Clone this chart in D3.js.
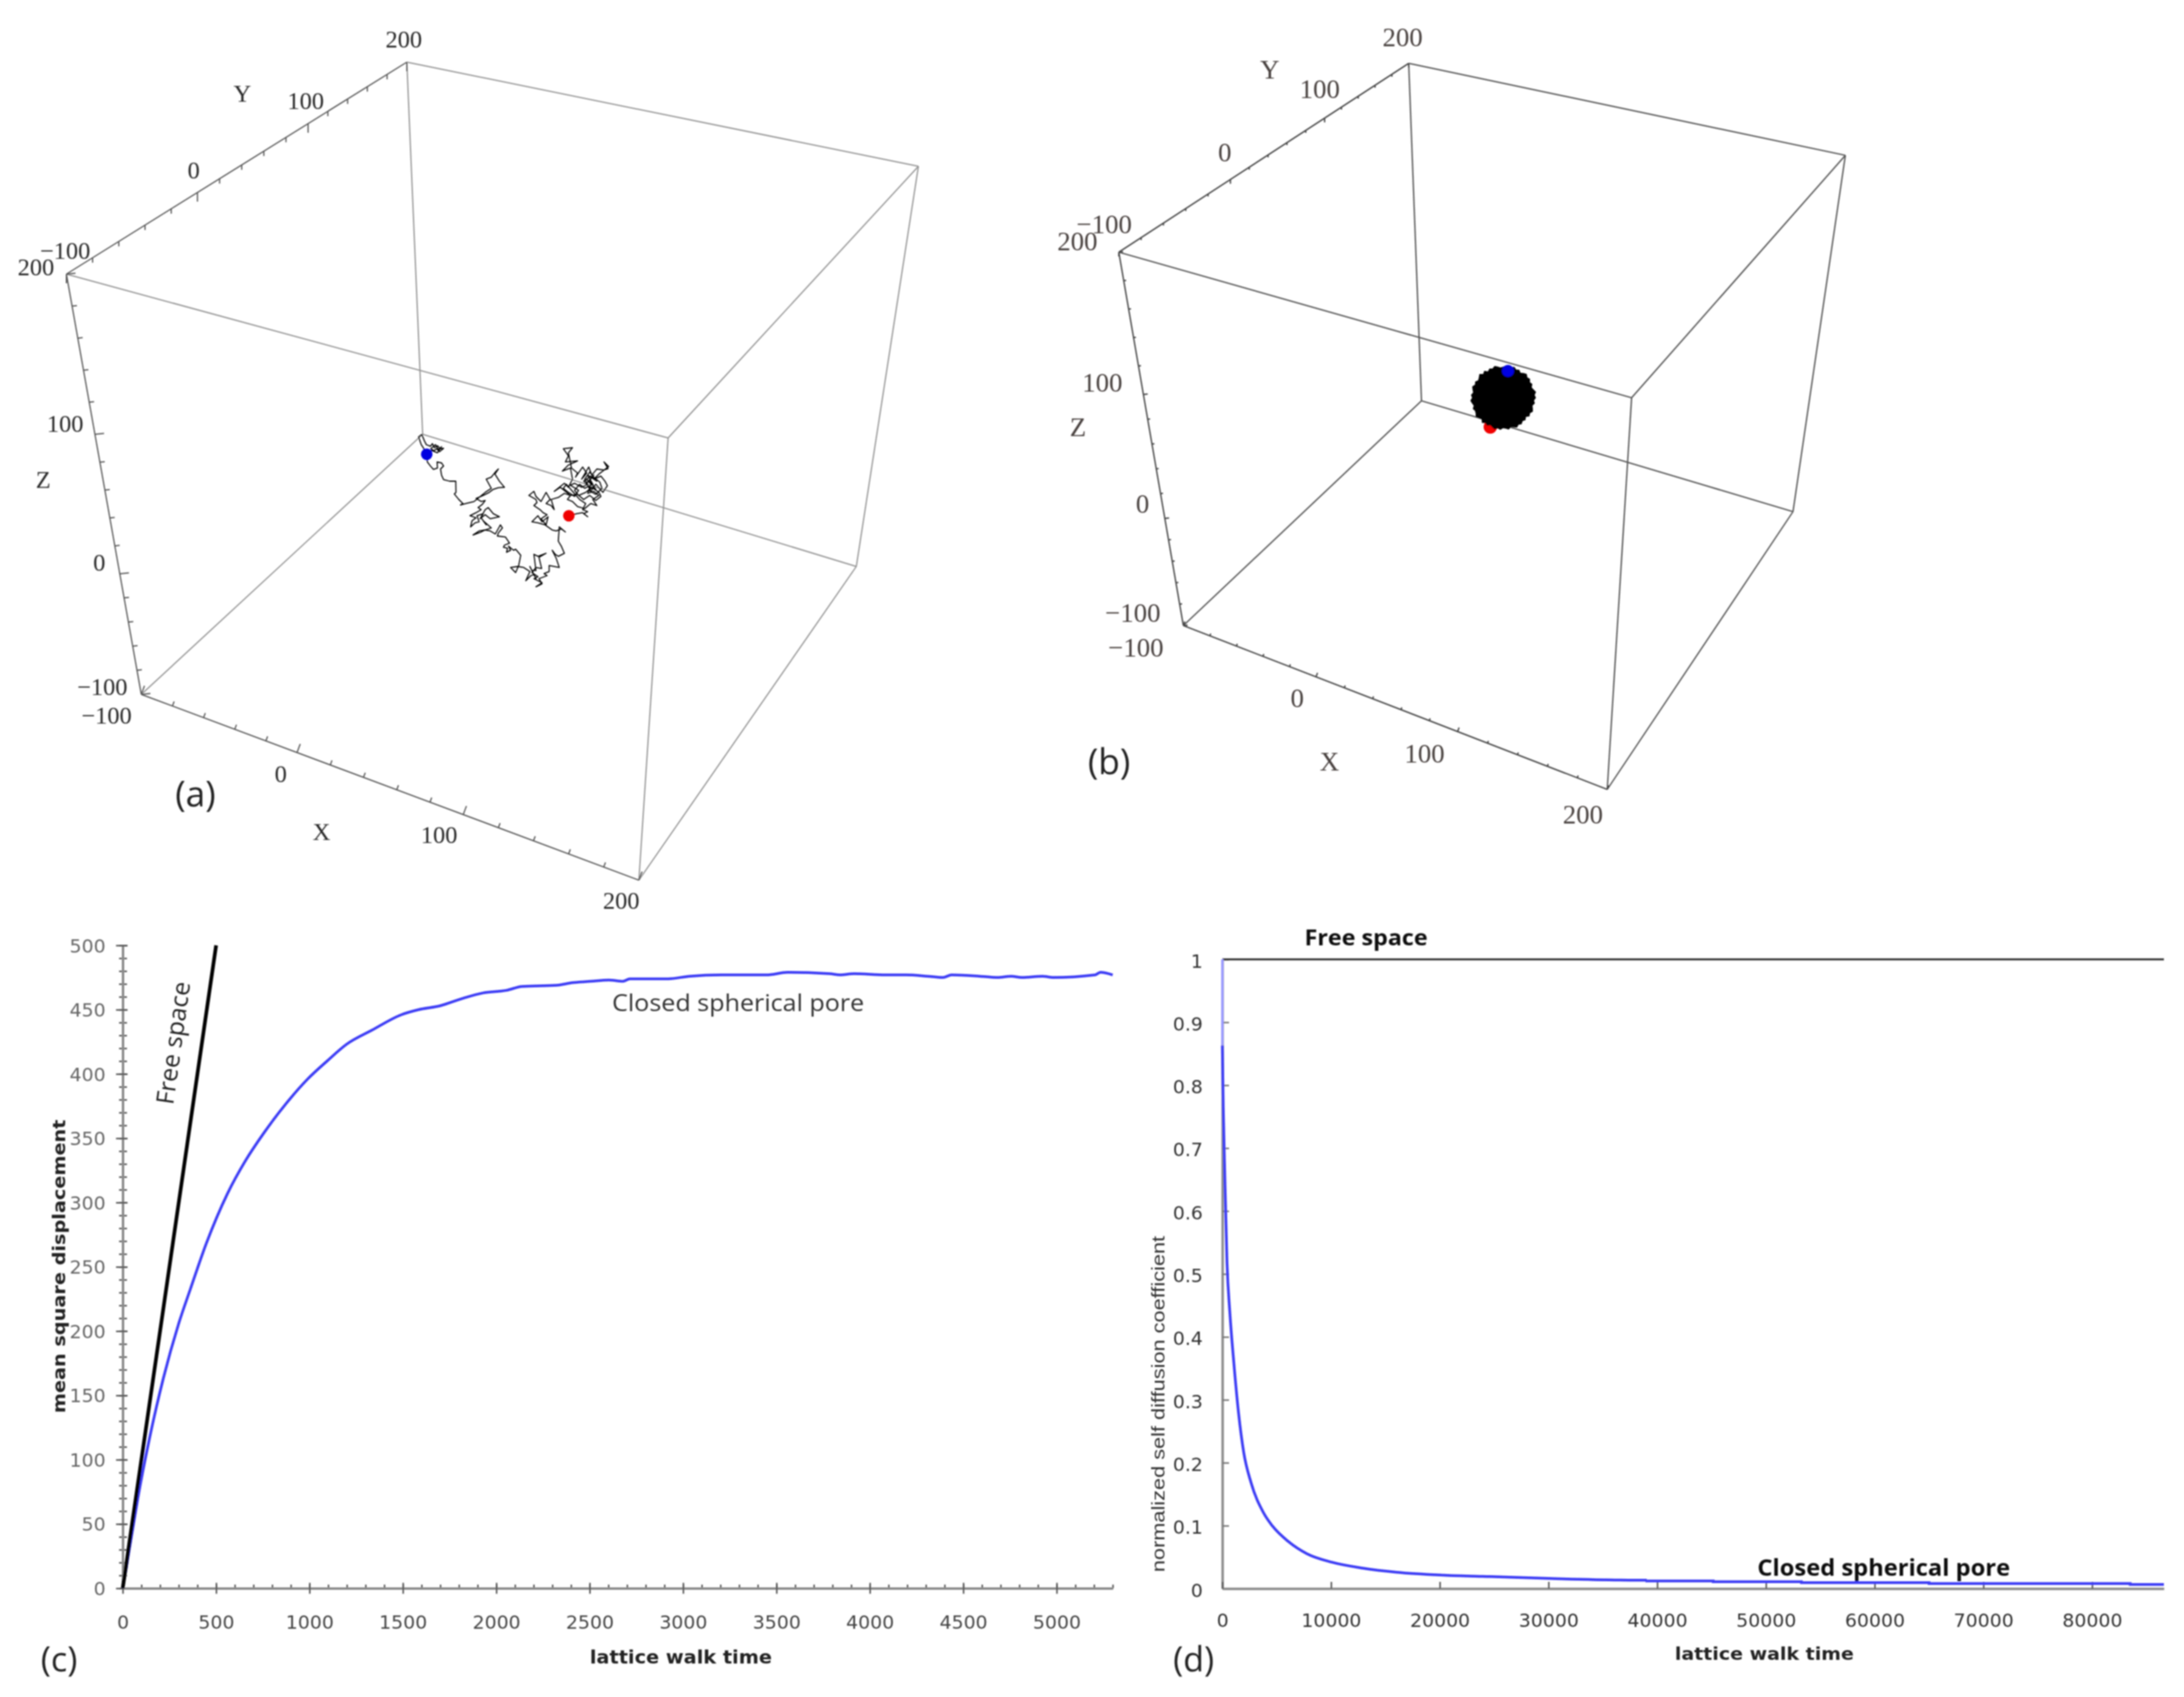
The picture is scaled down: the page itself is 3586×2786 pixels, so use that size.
<!DOCTYPE html>
<html>
<head>
<meta charset="utf-8">
<title>Random walk in a closed spherical pore</title>
<script src="https://cdn.jsdelivr.net/npm/d3@7"></script>
<style>
  html, body { margin: 0; background: #fff; }
  svg { display: block; }
  text { dominant-baseline: central; }
</style>
</head>
<body>
<svg id="fig" width="3586" height="2786"></svg>
<script>
// --- data ---

// 3D box axes: value -> fraction along the edge (perspective makes it uneven)
const boxTicks = [-100, 0, 100, 200];
const xEdgeFrac = [0, 0.313, 0.647, 1];
const yEdgeFrac = [0, 0.385, 0.71, 1];
const zEdgeFrac = [0, 0.287, 0.619, 1];
const boxMinor = d3.range(-100, 201, 20);

const walkPoints = [
  [152,197],[135,165],[125,150],[112,112],[128,100],[140,130],[150,150],[170,158],[180,145],[190,165],[205,155],[218,170],[235,168],[215,185],[200,170],[188,180],[172,170],[195,150],[210,175],[225,160],[205,190],[175,178],[152,197],
  [155,235],[170,255],[185,272],[205,265],[203,235],[225,240],[235,255],[220,270],[225,300],[235,322],[265,330],[295,330],[296,385],[288,393],[310,420],[330,440],[318,447],[345,440],[385,430],[410,410],[440,385],[470,365],[445,320],[470,310],[490,285],[505,270],[488,295],[510,330],[535,360],[505,362],[480,370],[460,385],[430,400],[395,415],[420,430],[440,425],[425,445],[405,460],[420,470],[395,485],[365,500],[395,510],[375,525],[368,555],[390,535],[410,530],[400,500],[430,490],[415,515],[440,470],[455,460],[480,490],[510,505],[465,515],[440,495],[420,510],[445,545],[430,525],[470,560],[440,570],[410,575],[380,595],[420,580],[440,570],[465,575],[490,590],[515,545],[525,560],[505,585],[500,600],[540,605],[560,635],[535,645],[530,655],[550,660],[545,680],[565,670],[555,650],[580,670],[590,665],[615,695],[605,745],[590,780],[565,755],[600,750],[630,755],[660,775],[640,820],[665,795],[680,790],[660,750],[690,810],[670,770],[690,770],[680,690],[700,700],[740,685],[705,705],[718,760],[690,755],[670,780],[700,800],[680,810],[720,830],[690,850],[720,835],[705,810],[745,795],[730,785],[755,775],[755,745],[805,755],[790,710],[770,670],[785,690],[800,700],[830,685],[815,650],[800,625],[805,555],[835,580],[815,565],[790,575],[770,570],[735,545],[700,535],[670,530],[700,500],[720,530],[750,505],[740,545],[715,515],[745,495],[725,485],[710,470],[680,450],[695,435],[690,420],[655,400],[680,380],[690,405],[715,430],[740,385],[760,420],[740,440],[765,450],[780,470],[765,420],[800,410],[830,390],[860,400],[810,360],[780,380],[830,340],[850,360],[870,320],[860,265],[820,280],[850,250],[895,230],[835,235],[850,205],[825,170],[870,165],[850,190],
  [865,265],[895,290],[885,310],[920,260],[940,290],[915,320],[950,260],[965,300],[990,270],[1025,275],[1045,268],[1025,235],[1048,258],[1000,295],[975,320],[1010,305],[1030,330],[1042,352],[1020,385],[985,345],[960,380],[940,340],[975,300],[955,325],[985,370],[950,355],[925,330],[960,305],[990,330],[945,300],[970,345],[930,365],[905,345],[880,375],[900,400],[935,385],[965,360],[1000,385],[1010,405],[985,425],[955,400],[925,420],[895,395],[860,400],[845,420],[870,430],[895,455],[930,465],[960,440],[990,450],[970,420],[1000,400],[975,380],[945,390],[960,345],[940,320],[975,355],[950,375],[985,395],[1015,365],[1005,335],[975,310],[955,285],[930,320],[945,345],[915,360],[880,340],[860,350],[900,375],[880,405],[850,385],[825,365],[840,345],[870,380],[905,420],[935,440],[920,470],[945,480],[925,490],[945,505],[920,485],[890,490],[852,500],
];

// (b) outline of the dense walk, distance from its centre, every 5 degrees
const blobRadius = [51,53,50,52,54,51,53,50,53,55,52,54,51,53,50,52,55,52,
  54,51,53,50,52,54,51,53,49,52,50,53,51,54,52,50,53,51,
  50,53,51,54,52,50,53,51,54,50,52,55,52,51,53,50,52,54,
  51,53,50,52,54,51,53,50,52,55,51,54,50,53,51,54,52,50];

// (c) mean square displacement
const timeC = [0,50,81,144,217,300,363,447,561,655,760,875,990,1094,1198,1334,1491,1585,1699,1825,1929,2054,2138,
  2325,2408,2505,2603,2678,2715,2920,3036,3204,3279,3447,3559,3784,3840,3915,4083,4195,4307,4391,4438,4588,4682,4757,4813,4925,4981,5206,5234,5300];
const msdPore = [0,43,70,117,163,206,233,268,307,332,355,377,396,410,423,434,446,450,453,459,463,465,468,
  469,471,472,473,472,474,474,476,477,477,477,479,478,477,478,477,477,476,475,477,476,475,476,475,476,475,477,479,477];
const timeFree = [0, 500];
const msdFree = [0, 500];

// (d) normalized self diffusion coefficient
const timeD = [0,86,200,430,690,1057,1486,1971,2629,3771,4629,6057,7771,10057,12914,16057,20343,24629,30343,36571,39040];
const diffPore = [0.863,0.764,0.676,0.518,0.439,0.359,0.28,0.216,0.169,0.121,0.099,0.075,0.0555,0.042,0.0325,0.026,0.0214,0.019,0.0159,0.0135,0.0133];
const timeSteps = [39040,39040,45150,45150,53260,53260,65000,65000,83500,83500,86600];
const diffSteps = [0.0133,0.0122,0.0122,0.0108,0.0108,0.0094,0.0094,0.008,0.008,0.0066,0.0066];
const diffStart = [1, 0.863];
const freeLevel = [1, 1];

const ticksC_x = d3.range(0, 5001, 500);
const ticksC_y = d3.range(0, 501, 50);
const ticksD_x = d3.range(0, 80001, 10000);
const ticksD_y = d3.range(0, 1.01, 0.1);

// --- page ---
const svg = d3.select('#fig');
const defs = svg.append('defs');
defs.append('filter')
  .attr('id', 'soft')
  .attr('filterUnits', 'userSpaceOnUse')
  .attr('x', 0).attr('y', 0).attr('width', 3586).attr('height', 2786)
  .append('feGaussianBlur').attr('stdDeviation', 1.1);

const root = svg.append('g').attr('filter', 'url(#soft)');
svg.insert('rect', ':first-child').attr('width', 3586).attr('height', 2786).attr('fill', '#fff');

function label(g, txt, x, y, o = {}) {
  const t = g.append('text')
    .attr('x', x).attr('y', y)
    .attr('text-anchor', o.anchor || 'middle')
    .attr('font-family', o.font || 'Liberation Serif')
    .attr('font-size', o.size || 40)
    .attr('font-weight', o.weight || 'normal')
    .attr('fill', o.color || '#222')
    .text(txt);
  if (o.len) t.attr('textLength', o.len).attr('lengthAdjust', 'spacingAndGlyphs');
  if (o.rotate) t.attr('transform', `rotate(${o.rotate} ${x} ${y})`);
  return t;
}

// one 3D box panel
function drawBox(c, style) {
  const g = root.append('g');
  const edges = [['B','E'],['E','F'],['A','F'],['C','H'],['H','G'],['C','D'],['G','D'],['A','H'],['E','D'],['F','G'],['B','A'],['B','C']];
  const axisEdges = new Set(['C-D', 'B-A', 'B-C']);
  edges.forEach(([p, q]) => {
    g.append('line')
      .attr('x1', c[p][0]).attr('y1', c[p][1])
      .attr('x2', c[q][0]).attr('y2', c[q][1])
      .attr('stroke', axisEdges.has(p + '-' + q) ? style.axis : style.edge)
      .attr('stroke-width', style.width);
  });
  const axes = [
    { from: 'C', to: 'D', frac: xEdgeFrac, dir: [0.35, -0.94] },
    { from: 'B', to: 'A', frac: yEdgeFrac, dir: [0, 1] },
    { from: 'C', to: 'B', frac: zEdgeFrac, dir: [1, -0.1] },
  ];
  axes.forEach(a => {
    const pos = d3.scaleLinear().domain(boxTicks).range(a.frac);
    const along = d3.interpolate(c[a.from], c[a.to]);
    boxMinor.forEach(v => {
      const p = along(pos(v));
      const len = v % 100 === 0 ? style.major : style.minor;
      g.append('line')
        .attr('x1', p[0]).attr('y1', p[1])
        .attr('x2', p[0] + a.dir[0] * len).attr('y2', p[1] + a.dir[1] * len)
        .attr('stroke', style.axis).attr('stroke-width', style.width);
    });
  });
  return g;
}

// --- (a) ---
const gA = drawBox({
  A: [668, 102], B: [109, 450], C: [232, 1140], D: [1049, 1445],
  E: [1097, 719], F: [1508, 273], G: [1406, 930], H: [694, 713],
}, { edge: '#939393', axis: '#555', width: 2, major: 15, minor: 8 });

[['Y',398,153],['100',502,165],['0',318,279],['\u2212100',107,411],['200',663,64],['200',59,438],
 ['Z',71,787],['100',107,695],['0',163,923],['\u2212100',168,1127],['\u2212100',175,1174],
 ['0',461,1270],['X',528,1365],['100',721,1370],['200',1020,1478]]
  .forEach(d => label(gA, d[0], d[1], d[2], { size: 40, color: '#2a2a2a' }));
label(gA, '(a)', 321, 1301, { font: 'Open Sans', size: 58, color: '#222' });

const walkPx = d3.scaleLinear().domain([0, 400]).range([650, 783.33]);
const walkPy = d3.scaleLinear().domain([0, 320]).range([680, 786.67]);
const walkLine = d3.line().x(d => walkPx(d[0])).y(d => walkPy(d[1]));
gA.append('path')
  .attr('d', walkLine(walkPoints))
  .attr('fill', 'none').attr('stroke', '#000').attr('stroke-width', 1.8).attr('stroke-linejoin', 'round');
const walkStart = walkPoints[0];
const walkEnd = walkPoints[walkPoints.length - 1];
gA.append('circle').attr('cx', walkPx(walkStart[0])).attr('cy', walkPy(walkStart[1])).attr('r', 9.5).attr('fill', '#0000e0');
gA.append('circle').attr('cx', walkPx(walkEnd[0])).attr('cy', walkPy(walkEnd[1])).attr('r', 9.5).attr('fill', '#f00000');

// --- (b) ---
const gB = drawBox({
  A: [2313, 104], B: [1837, 414], C: [1943, 1027], D: [2639, 1296],
  E: [2679, 653], F: [3030, 255], G: [2944, 840], H: [2334, 658],
}, { edge: '#555', axis: '#444', width: 2.2, major: 7, minor: 4 });

[['Y',2085,114],['100',2167,146],['0',2011,250],['\u2212100',1813,368],['200',2303,61],['200',1769,396],
 ['Z',1770,701],['100',1810,628],['0',1876,827],['\u2212100',1860,1006],['\u2212100',1865,1063],
 ['0',2130,1146],['X',2183,1250],['100',2339,1237],['200',2599,1337]]
  .forEach(d => label(gB, d[0], d[1], d[2], { size: 44, color: '#4a4240' }));
label(gB, '(b)', 1821, 1248, { font: 'Open Sans', size: 58, color: '#222' });

gB.append('circle').attr('cx', 2447).attr('cy', 701).attr('r', 11).attr('fill', '#f00000');
const blob = d3.lineRadial()
  .angle((d, i) => i * 5 * Math.PI / 180)
  .radius(d => d)
  .curve(d3.curveLinearClosed);
gB.append('path')
  .attr('transform', 'translate(2468,653)')
  .attr('d', blob(blobRadius))
  .attr('fill', '#000');
gB.append('circle').attr('cx', 2476).attr('cy', 609).attr('r', 10).attr('fill', '#0000e0');

// --- (c) ---
const gC = root.append('g');
const xC = d3.scaleLinear().domain([0, 5300]).range([201.5, 1827]);
const yC = d3.scaleLinear().domain([0, 500]).range([2607.5, 1552]);
const axisGrey = '#8a8a8a';

const styleAxis = (sel, tickCol) => {
  sel.selectAll('.domain').attr('stroke', axisGrey).attr('stroke-width', 4);
  sel.selectAll('.tick line').attr('stroke', tickCol).attr('stroke-width', 2.5);
};

const cYMinor = gC.append('g').attr('transform', `translate(${xC(0)},0)`)
  .call(d3.axisLeft(yC).tickValues(d3.range(0, 501, 10)).tickFormat('').tickSize(6).tickSizeOuter(0));
cYMinor.selectAll('.tick line').attr('x1', 7);
styleAxis(cYMinor, '#555');
const cXMinor = gC.append('g').attr('transform', `translate(0,${yC(0)})`)
  .call(d3.axisTop(xC).tickValues(d3.range(0, 5301, 100)).tickFormat('').tickSize(6).tickSizeOuter(0));
styleAxis(cXMinor, '#555');

const cY = gC.append('g').attr('transform', `translate(${xC(0)},0)`)
  .call(d3.axisLeft(yC).tickValues(ticksC_y).tickSize(11).tickPadding(6).tickSizeOuter(0));
cY.selectAll('.tick line').attr('x1', 8);
styleAxis(cY, '#555');
cY.selectAll('text').attr('font-family', 'DejaVu Sans').attr('font-size', 31).attr('fill', '#666').attr('dy', 0).attr('x', -28);

const cX = gC.append('g').attr('transform', `translate(0,${yC(0)})`)
  .call(d3.axisBottom(xC).tickValues(ticksC_x).tickFormat(d3.format('d')).tickSize(9).tickSizeOuter(0));
cX.selectAll('.tick line').attr('y1', -9);
styleAxis(cX, '#555');
cX.selectAll('text').attr('font-family', 'DejaVu Sans').attr('font-size', 31).attr('fill', '#444').attr('y', 55).attr('dy', 0);

const lineC = d3.line().x(d => xC(d[0])).y(d => yC(d[1]));
gC.append('path').attr('d', lineC.curve(d3.curveMonotoneX)(d3.zip(timeC, msdPore)))
  .attr('fill', 'none').attr('stroke', '#3c3cf5').attr('stroke-width', 4.5);
gC.append('path').attr('d', lineC.curve(d3.curveLinear)(d3.zip(timeFree, msdFree)))
  .attr('fill', 'none').attr('stroke', '#000').attr('stroke-width', 6);

label(gC, 'mean square displacement', 97, 2079, { font: 'DejaVu Sans', weight: 'bold', size: 28, len: 482, rotate: -90, color: '#222' });
label(gC, 'lattice walk time', 1118, 2720, { font: 'DejaVu Sans', weight: 'bold', size: 30, len: 299, color: '#222' });
label(gC, 'Closed spherical pore', 1212, 1645, { font: 'Open Sans', size: 38, len: 414, color: '#333' });
label(gC, 'Free space', 283, 1712, { font: 'Open Sans', size: 40, len: 203, rotate: -82, color: '#222' });
label(gC, '(c)', 97, 2722, { font: 'Open Sans', size: 56, color: '#222' });

// --- (d) ---
const gD = root.append('g');
const xD = d3.scaleLinear().domain([0, 86600]).range([2007, 3553]);
const yD = d3.scaleLinear().domain([0, 1]).range([2608, 1575]);

const dY = gD.append('g').attr('transform', `translate(${xD(0)},0)`)
  .call(d3.axisRight(yD).tickValues(ticksD_y).tickSize(11).tickFormat(d3.format('.1~f')).tickSizeOuter(0));
styleAxis(dY, '#777');
dY.selectAll('text').attr('font-family', 'DejaVu Sans').attr('font-size', 31).attr('fill', '#333')
  .attr('text-anchor', 'end').attr('x', -32).attr('dy', 2);

const dX = gD.append('g').attr('transform', `translate(0,${yD(0)})`)
  .call(d3.axisTop(xD).tickValues(ticksD_x).tickFormat(d3.format('d')).tickSize(11).tickSizeOuter(0));
styleAxis(dX, '#555');
dX.selectAll('text').attr('font-family', 'DejaVu Sans').attr('font-size', 31).attr('fill', '#333').attr('y', 52).attr('dy', 0);

const lineD = d3.line().x(d => xD(d[0])).y(d => yD(d[1]));
gD.append('path').attr('d', lineD(d3.zip(xD.domain(), freeLevel)))
  .attr('fill', 'none').attr('stroke', '#222').attr('stroke-width', 3);
gD.append('path').attr('d', lineD(d3.zip([0, 0], diffStart)))
  .attr('fill', 'none').attr('stroke', '#9a9aff').attr('stroke-width', 4);
gD.append('path').attr('d', lineD(d3.zip(timeSteps, diffSteps)))
  .attr('fill', 'none').attr('stroke', '#3c3cf5').attr('stroke-width', 4.5);
gD.append('path').attr('d', lineD.curve(d3.curveMonotoneX)(d3.zip(timeD, diffPore)))
  .attr('fill', 'none').attr('stroke', '#3c3cf5').attr('stroke-width', 4.5);

label(gD, 'normalized self diffusion coefficient', 1901, 2305, { font: 'Liberation Sans', size: 30, len: 552, rotate: -90, color: '#333' });
label(gD, 'lattice walk time', 2897, 2715, { font: 'DejaVu Sans', weight: 'bold', size: 29, len: 294, color: '#222' });
label(gD, 'Free space', 2243, 1538, { font: 'Open Sans', weight: 'bold', size: 35, len: 202, color: '#111' });
label(gD, 'Closed spherical pore', 3093, 2572, { font: 'Open Sans', weight: 'bold', size: 38, len: 415, color: '#111' });
label(gD, '(d)', 1960, 2722, { font: 'Open Sans', size: 56, color: '#222' });
</script>
</body>
</html>
